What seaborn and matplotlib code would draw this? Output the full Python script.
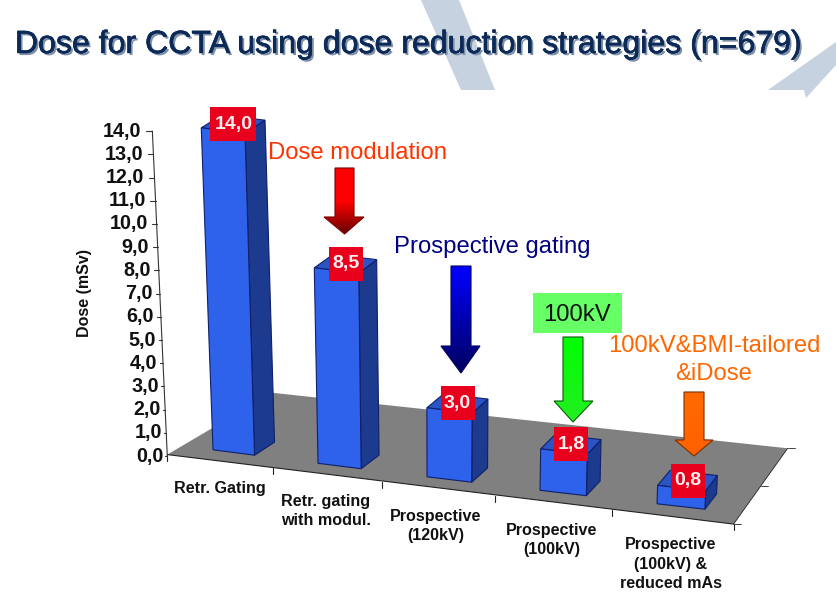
import numpy as np
import matplotlib
matplotlib.use("Agg")
import matplotlib.pyplot as plt
import matplotlib.patheffects as pe
from matplotlib.colors import LinearSegmentedColormap
from matplotlib.patches import Polygon, Rectangle
from matplotlib.transforms import Affine2D, Transform
import seaborn as sns

categories = ["Retr. Gating", "Retr. gating\nwith modul.", "Prospective\n(120kV)",
              "Prospective\n(100kV)", "Prospective\n(100kV) &\nreduced mAs"]
doses = [14.0, 8.5, 3.0, 1.8, 0.8]
dose_labels = ["14,0", "8,5", "3,0", "1,8", "0,8"]
y_ticks = [float(v) for v in range(15)]
title = "Dose for CCTA using dose reduction strategies (n=679)"

sns.set_theme(style="white")
plt.rcParams["font.family"] = ["Liberation Sans", "DejaVu Sans"]

W, H = 836, 593
fig = plt.figure(figsize=(W / 100, H / 100), dpi=100, facecolor="white")
ax = fig.add_axes([0, 0, 1, 1])
pix = Affine2D().scale(1, -1).translate(0, H)  # image pixels -> display


def proj(x, dose, d=0.0):
    # fake 3d: category, dose and depth to image pixels
    px = 233.7 + 103.8 * x + 2 * x * x + (-0.76 + 0.4 * x) * dose + (20.4 - 2.08 * x) * d
    py = 452.5 + 13.5 * x - 23.0 * dose - (12.9 + 0.57 * x) * d
    return px, py


class FrontFace(Transform):
    input_dims = 2
    output_dims = 2
    is_separable = False
    has_inverse = False

    def transform_non_affine(self, values):
        values = np.asarray(values, dtype=float)
        px, py = proj(values[:, 0], values[:, 1])
        return pix.transform(np.column_stack([px, py]))


def poly(points, **kw):
    p = Polygon(points, closed=True, transform=pix, clip_on=False, **kw)
    ax.add_patch(p)
    return p


def line(points, color="#222222", lw=0.8, z=3):
    xs, ys = zip(*points)
    ax.plot(xs, ys, color=color, lw=lw, transform=pix, clip_on=False, zorder=z)


def label(px, py, s, **kw):
    kw.setdefault("ha", "center")
    kw.setdefault("va", "center")
    return ax.text(px, py, s, transform=pix, clip_on=False, **kw)


def arrow(x0, x1, head0, head1, top, neck, tip, colors, edge):
    mid = (x0 + x1) / 2
    pts = [(x0, top), (x1, top), (x1, neck), (head1, neck), (mid, tip), (head0, neck), (x0, neck)]
    outline = poly(pts, facecolor="none", edgecolor=edge, lw=0.8, zorder=7)
    ys = np.linspace(top, tip, 40)
    xs = np.array([head0, head1])
    cmap = LinearSegmentedColormap.from_list("arrow", colors)
    mesh = ax.pcolormesh(xs, ys, np.linspace(0, 1, 39)[:, None], cmap=cmap,
                         transform=pix, zorder=6, clip_on=True)
    mesh.set_clip_path(outline.get_path(), outline.get_transform())


# bars
sns.barplot(x=categories, y=doses, width=0.4, color="#2f62ea", saturation=1, ax=ax,
            edgecolor="#10206a", linewidth=0.8, zorder=4)
bars = list(ax.containers[0])

# background shapes of the slide
poly([(421, 0), (459, 0), (495, 90), (461, 90)], facecolor="#c6d2e0", edgecolor="none", zorder=0)
poly([(768, 90), (836, 42), (836, 65), (806, 98), (804, 90)], facecolor="#c6d2e0", edgecolor="none", zorder=0)

# floor
front, back = -0.7, 4.2
poly([proj(-0.5, 0, front), proj(4.5, 0, front), proj(4.5, 0, back), proj(-0.5, 0, back)],
     facecolor="#808080", edgecolor="none", zorder=1)
line([proj(-0.5, 0, front), proj(4.5, 0, front)])
line([proj(4.5, 0, front), proj(4.5, 0, back)], lw=0.6)
for k in range(6):
    px, py = proj(k - 0.5, 0, front)
    line([(px, py), (px, py + 6)])
for d in [front, (front + back) / 2, back]:
    px, py = proj(4.5, 0, d)
    line([(px, py), (px + 7, py)], lw=0.6)

for bar in bars:
    x0, x1, v = bar.get_x(), bar.get_x() + bar.get_width(), bar.get_height()
    bar.set_transform(FrontFace())
    bar.set_clip_on(False)
    poly([proj(x1, 0), proj(x1, 0, 1), proj(x1, v, 1), proj(x1, v)],
         facecolor="#1c3a8e", edgecolor="#10206a", lw=0.8, zorder=3)
    poly([proj(x0, v), proj(x1, v), proj(x1, v, 1), proj(x0, v, 1)],
         facecolor="#2b55c4", edgecolor="#10206a", lw=0.8, zorder=3)

# value boxes
for i, (v, s) in enumerate(zip(doses, dose_labels)):
    px, py = proj(i, v, 0.5)
    w = 46 if len(s) > 3 else 34
    ax.add_patch(Rectangle((px - w / 2, py - 17), w, 34, facecolor="#e8001c", edgecolor="none",
                           transform=pix, clip_on=False, zorder=5))
    label(px, py, s, color="#fbeeee", fontsize=14, fontweight="bold", zorder=8)

# dose axis, ticks get shorter towards the floor
ax0, ay0 = proj(-0.5, 0, front)
ax1, ay1 = proj(-0.5, 14, front)
line([(ax0, ay0 + 1.5), (ax1 - 1.5, ay1 - 1.5)], color="#333333")
for v in y_ticks:
    px, py = proj(-0.5, v, front)
    px, py = px - 1.5 * v / 14, py + 1.5 - 3 * v / 14
    tick = 2 + 4 * v / 14
    line([(px - tick, py), (px, py)], color="#333333")
    label(px - tick - 2 - 3 * v / 14, py, f"{v:.1f}".replace(".", ","), ha="right", color="#111111",
          fontsize=14.2, fontweight="bold")
label(85, 293, "Dose (mSv)", rotation=90, color="#111111", fontsize=11.5, fontweight="bold")

# category labels
label_pos = [(220, 489), (326, 511), (436, 526), (552, 540), (671, 564)]
for (px, py), s in zip(label_pos, categories):
    label(px, py, s, color="#111111", fontsize=11.6, fontweight="bold", linespacing=1.4)

# annotations
label(357, 153, "Dose modulation", color="#ff3300", fontsize=17.2)
label(492, 247, "Prospective gating", color="#000080", fontsize=17.2)
ax.add_patch(Rectangle((533, 293), 89, 40, facecolor="#66ff66", edgecolor="none",
                       transform=pix, clip_on=False, zorder=5))
label(577, 315, "100kV", color="#111111", fontsize=17.2, zorder=8)
label(714, 360, "100kV&BMI-tailored\n&iDose", color="#ff6600", fontsize=17.2, linespacing=1.35)

arrow(335, 354, 324, 364, 168, 217, 234, ["#ff0000", "#ff0000", "#6a0000"], "#7a0000")
arrow(451, 471, 441, 480, 266, 346, 373, ["#0000ff", "#000060"], "#000060")
arrow(563, 583, 554, 593, 337, 401, 422, ["#00ff00", "#22ee22"], "#0a5a0a")
arrow(684, 704, 675, 713, 392, 440, 456, ["#ff6a00", "#ff6000"], "#7a3000")

# title
label(409, 45, title, color="#0c2a58", fontsize=23.1, zorder=9,
      path_effects=[pe.withSimplePatchShadow(offset=(1.5, -1.5), shadow_rgbFace="#7f8fa8", alpha=1),
                    pe.withStroke(linewidth=0.4, foreground="#0c2a58")])

ax.set_xlim(-0.5, 4.5)
ax.set_ylim(0, 14)
ax.axis("off")
fig.savefig("out.png", dpi=100, facecolor="white")
